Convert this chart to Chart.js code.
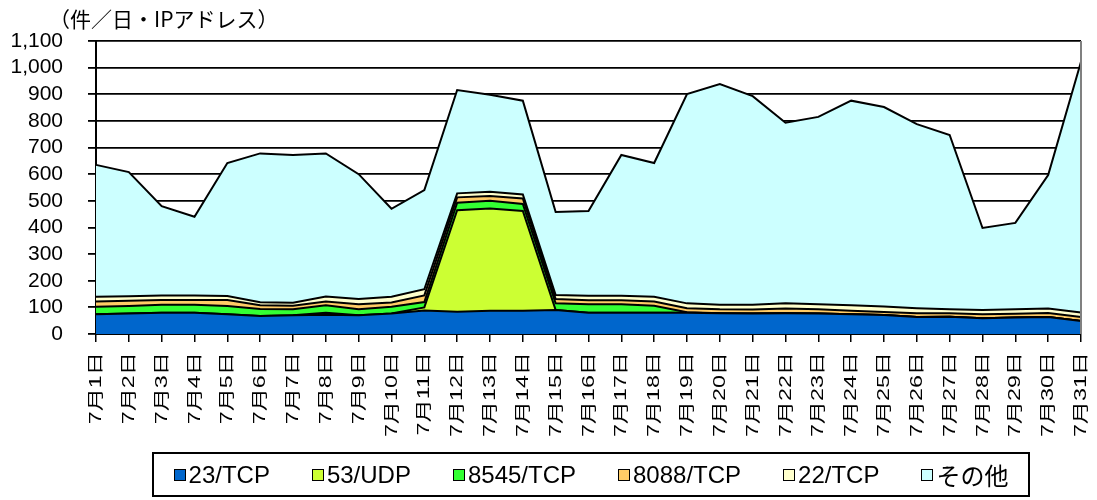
<!DOCTYPE html>
<html>
<head>
<meta charset="utf-8">
<script src="https://cdn.jsdelivr.net/npm/chart.js@4/dist/chart.umd.min.js"></script>
<style>
  html, body { margin: 0; padding: 0; background: #fff; }
  #wrap { position: relative; width: 1097px; height: 500px; overflow: hidden; }
  #c { position: absolute; left: 0; top: 0; }
  #title { position: absolute; left: 49px; top: 5px; font: 21px "Noto Sans CJK JP", sans-serif; color: #000; white-space: nowrap; line-height: 26px; }
  .xl { position: absolute; white-space: nowrap; font: 16px "Liberation Sans", "Noto Sans CJK JP", sans-serif; color: #000; line-height: 18px; transform-origin: 0 0; }
  #legend { position: absolute; left: 152px; top: 452px; width: 874px; height: 41px; border: 2px solid #000; display: flex; align-items: center; justify-content: center; gap: 42px; font: 24px "Liberation Sans", "Noto Sans CJK JP", sans-serif; color: #000; }
  .li { display: flex; align-items: center; white-space: nowrap; }
  .sw { width: 10px; height: 10px; border: 1px solid #000; margin-right: 3px; }
</style>
</head>
<body>
<div id="wrap">
  <canvas id="c" width="1097" height="500"></canvas>
  <div id="title">（件／日・IPアドレス）</div>
  <div id="legend"></div>
</div>
<script>
const categories = ['7月1日','7月2日','7月3日','7月4日','7月5日','7月6日','7月7日','7月8日','7月9日','7月10日',
  '7月11日','7月12日','7月13日','7月14日','7月15日','7月16日','7月17日','7月18日','7月19日','7月20日',
  '7月21日','7月22日','7月23日','7月24日','7月25日','7月26日','7月27日','7月28日','7月29日','7月30日','7月31日'];
const tcp23   = [74,77,80,80,74,68,70,72,70,77,88,84,87,87,90,80,80,80,80,78,77,78,77,74,71,64,65,59,62,64,49];
const udp53   = [0,0,0,0,0,0,0,8,0,0,12,381,384,375,0,0,0,0,0,0,0,0,0,0,0,0,0,0,0,0,0];
const tcp8545 = [28,28,30,30,31,26,23,28,23,25,20,28,29,26,25,32,32,26,2,0,0,0,0,0,0,0,0,0,0,0,0];
const tcp8088 = [20,20,18,18,23,14,13,14,19,16,25,20,18,21,16,15,15,16,15,15,15,18,16,13,12,14,13,15,14,15,15];
const tcp22   = [18,17,17,17,15,11,11,19,19,22,23,15,16,15,15,17,17,18,18,17,18,19,19,21,20,19,15,16,17,17,17];
const others  = [495,466,335,295,499,559,555,537,469,330,372,388,364,352,312,318,528,502,786,828,783,678,703,768,749,691,654,308,324,501,941];
const seriesNames = ['23/TCP','53/UDP','8545/TCP','8088/TCP','22/TCP','その他'];
const seriesColors = ['#0066CC','#CCFF33','#33FF33','#FFCC66','#FFFFCC','#CCFFFF'];
const yTicks = {min: 0, max: 1100, step: 100};

const seriesData = [tcp23, udp53, tcp8545, tcp8088, tcp22, others];
const datasets = seriesData.map((d, i) => ({
  label: seriesNames[i],
  data: d,
  backgroundColor: seriesColors[i],
  borderColor: '#000',
  borderWidth: 2,
  pointRadius: 0,
  tension: 0,
  fill: i === 0 ? 'origin' : '-1'
}));

const rightBorder = {
  id: 'rightBorder',
  afterDatasetsDraw(chart) {
    const a = chart.chartArea, ctx = chart.ctx;
    ctx.save();
    ctx.strokeStyle = '#808080';
    ctx.lineWidth = 2;
    ctx.beginPath();
    ctx.moveTo(a.right, a.top);
    ctx.lineTo(a.right, a.bottom);
    ctx.stroke();
    ctx.restore();
  }
};

const chart = new Chart(document.getElementById('c'), {
  type: 'line',
  data: { labels: categories, datasets },
  plugins: [rightBorder],
  options: {
    responsive: false,
    animation: false,
    devicePixelRatio: 1,
    layout: { padding: { left: 0, top: 41, right: 16, bottom: 60 } },
    plugins: { legend: { display: false }, tooltip: { enabled: false } },
    scales: {
      x: {
        offset: false,
        afterFit(s) { s.height = 106; },
        grid: { drawOnChartArea: false, drawTicks: true, tickLength: 8, color: '#000', lineWidth: 1.5 },
        border: { display: true, color: '#000', width: 2 },
        ticks: { display: false, autoSkip: false }
      },
      y: {
        stacked: true,
        min: yTicks.min, max: yTicks.max,
        afterFit(s) { s.width = 96; },
        grid: { color: '#000', lineWidth: 1.8, tickLength: 8, drawTicks: true },
        border: { display: true, color: '#000', width: 2 },
        ticks: { stepSize: yTicks.step, autoSkip: false, color: '#000', padding: 25, font: { family: 'Liberation Sans', size: 21 } }
      }
    }
  }
});

// x tick labels as real text, positioned from the chart's own scale
const wrap = document.getElementById('wrap');
const xs = chart.scales.x;
const labelTop = chart.chartArea.bottom + 18;
categories.forEach((lab, i) => {
  const d = document.createElement('div');
  d.className = 'xl';
  d.textContent = lab;
  d.style.left = xs.getPixelForValue(i) + 'px';
  d.style.top = labelTop + 'px';
  d.style.transform = 'rotate(-90deg) scaleX(1.45) translateX(-100%) translateY(-50%)';
  wrap.appendChild(d);
});

// legend
const lg = document.getElementById('legend');
seriesNames.forEach((n, i) => {
  const it = document.createElement('div');
  it.className = 'li';
  const sw = document.createElement('div');
  sw.className = 'sw';
  sw.style.background = seriesColors[i];
  const t = document.createElement('span');
  t.textContent = n;
  it.appendChild(sw); it.appendChild(t);
  lg.appendChild(it);
});
</script>
</body>
</html>
